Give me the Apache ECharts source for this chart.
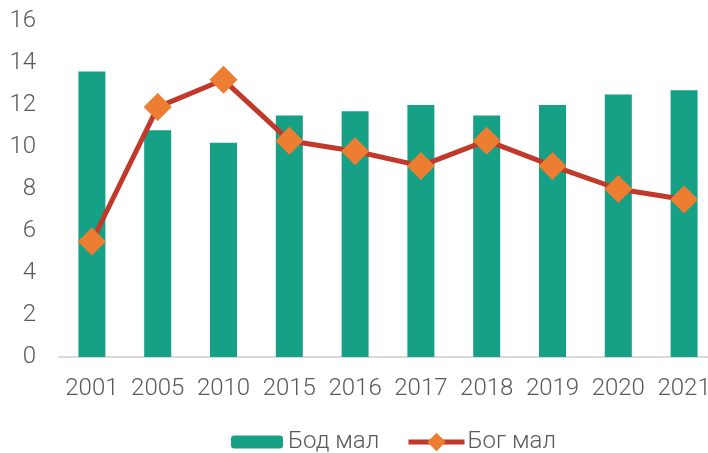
<!DOCTYPE html>
<html>
<head>
<meta charset="utf-8">
<script src="https://cdn.jsdelivr.net/npm/echarts@6/dist/echarts.min.js"></script>
<style>
  html, body { margin: 0; padding: 0; background: #fff; overflow: hidden; }
  #chart { width: 717px; height: 453px; }
</style>
</head>
<body>
<div id="chart"></div>
<script>
// years on the x axis
const years = ['2001', '2005', '2010', '2015', '2016', '2017', '2018', '2019', '2020', '2021']
// Бод мал (bars)
const bodMal = [13.6, 10.8, 10.2, 11.5, 11.7, 12.0, 11.5, 12.0, 12.5, 12.7]
// Бог мал (line)
const bogMal = [5.5, 11.9, 13.2, 10.3, 9.8, 9.1, 10.3, 9.1, 8.0, 7.5]

const labelColor = '#595959'
const font = 'Roboto'

const legendText = { color: labelColor, fontSize: 24, fontWeight: 300, fontFamily: font }

const chart = echarts.init(document.getElementById('chart'))

chart.setOption({
    animation: false,
    textStyle: { fontFamily: font },
    // plot runs past the right edge of the 708px window, like the original
    grid: {
        left: 59,
        right: 0,
        top: 21,
        bottom: 96
    },
    // two legends so the line icon can get a bigger diamond
    legend: [
        {
            top: 430,
            left: 231,
            padding: 0,
            itemWidth: 52,
            itemHeight: 13,
            textStyle: legendText,
            data: ['Бод мал']
        },
        {
            top: 430,
            left: 406,
            padding: 0,
            itemWidth: 56,
            itemHeight: 23,
            lineStyle: { width: 5 },
            textStyle: Object.assign({}, legendText, { padding: [0, 0, 0, -2] }),
            data: ['Бог мал']
        }
    ],
    xAxis: {
        type: 'category',
        data: years,
        axisLine: { lineStyle: { color: '#d9d9d9', width: 2 } },
        axisTick: { show: false },
        axisLabel: { color: labelColor, fontSize: 24, fontWeight: 300, margin: 20, interval: 0 }
    },
    yAxis: {
        type: 'value',
        min: 0,
        max: 16,
        interval: 2,
        axisLine: { show: false },
        axisTick: { show: false },
        splitLine: { show: false },
        axisLabel: { color: labelColor, fontSize: 24, fontWeight: 300, margin: 23 }
    },
    series: [
        {
            name: 'Бод мал',
            type: 'bar',
            data: bodMal,
            barWidth: 27,
            itemStyle: { color: '#16a085' }
        },
        {
            name: 'Бог мал',
            type: 'line',
            data: bogMal,
            z: 5,
            symbol: 'diamond',
            symbolSize: 28,
            lineStyle: { color: '#c0392b', width: 5 },
            itemStyle: { color: '#ed7d31', borderWidth: 0 }
        }
    ]
})
</script>
</body>
</html>
